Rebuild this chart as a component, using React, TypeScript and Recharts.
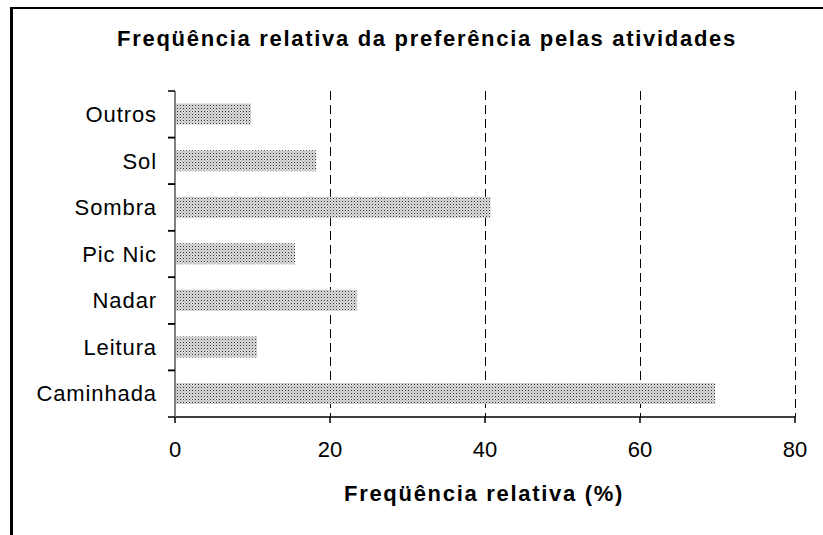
import { BarChart, Bar, XAxis, YAxis, CartesianGrid } from 'recharts'

const categories = ['Outros', 'Sol', 'Sombra', 'Pic Nic', 'Nadar', 'Leitura', 'Caminhada']
const values = [9.8, 18.2, 40.7, 15.5, 23.5, 10.6, 69.7]
const xTicks = [0, 20, 40, 60, 80]

const data = categories.map((name, i) => ({ name, value: values[i] }))

const W = 823
const H = 535
const margin = { top: 91, right: 28, bottom: 88, left: 10 }
const yAxisWidth = 165
const xAxisHeight = 30
const plotLeft = margin.left + yAxisWidth
const plotHeight = H - margin.top - margin.bottom - xAxisHeight
const band = plotHeight / categories.length
const font = '"Liberation Sans", Arial, sans-serif'

function CategoryTick(props: any) {
  const { x, y, payload } = props
  const top = y - band / 2
  const bottom = y + band / 2
  return (
    <g>
      <line x1={plotLeft - 7} x2={plotLeft} y1={top} y2={top} stroke="#000" strokeWidth={1.5} />
      <line x1={plotLeft - 7} x2={plotLeft} y1={bottom} y2={bottom} stroke="#000" strokeWidth={1.5} />
      <text
        x={x}
        y={y}
        dy="0.35em"
        textAnchor="end"
        fontSize={22}
        letterSpacing={0.9}
        fontFamily={font}
        fill="#000"
      >
        {payload.value}
      </text>
    </g>
  )
}

export default function App() {
  return (
    <div style={{ position: 'absolute', left: 0, top: 0, width: W, height: H, background: '#fff', fontFamily: font }}>
      <div
        style={{
          position: 'absolute',
          left: 10,
          top: 7,
          right: 0,
          bottom: 0,
          borderTop: '2px solid #000',
          borderLeft: '3px solid #000',
        }}
      />
      <div
        style={{
          position: 'absolute',
          left: 27,
          width: 800,
          top: 26,
          textAlign: 'center',
          fontSize: 22,
          fontWeight: 'bold',
          letterSpacing: 1.7,
          color: '#000',
        }}
      >
        Freqüência relativa da preferência pelas atividades
      </div>
      <div
        style={{
          position: 'absolute',
          left: 84,
          width: 800,
          top: 481,
          textAlign: 'center',
          fontSize: 22,
          fontWeight: 'bold',
          letterSpacing: 1.7,
          color: '#000',
        }}
      >
        Freqüência relativa (%)
      </div>
      <div style={{ position: 'absolute', left: 0, top: 0 }}>
        <BarChart width={W} height={H} data={data} layout="vertical" margin={margin} barCategoryGap="27%">
          <defs>
            <pattern id="dots" width="3" height="3" patternUnits="userSpaceOnUse">
              <rect width="3" height="3" fill="#dcdcdc" />
              <rect x="0" y="0" width="1" height="1" fill="#303030" />
              <rect x="1.5" y="1.5" width="1" height="1" fill="#8a8a8a" />
            </pattern>
          </defs>
          <CartesianGrid
            horizontal={false}
            stroke="#000"
            strokeDasharray="9 5"
            strokeWidth={1}
            shapeRendering="crispEdges"
          />
          <XAxis
            type="number"
            domain={[0, 80]}
            ticks={xTicks}
            height={xAxisHeight}
            axisLine={{ stroke: '#000', strokeWidth: 1.5 }}
            tickLine={{ stroke: '#000', strokeWidth: 1.5 }}
            tickSize={6}
            tickMargin={18}
            tick={{ fontSize: 22, fill: '#000', fontFamily: font }}
          />
          <YAxis
            type="category"
            dataKey="name"
            width={yAxisWidth}
            axisLine={{ stroke: '#808080', strokeWidth: 2 }}
            tickLine={false}
            tickSize={8}
            tickMargin={10}
            tick={<CategoryTick />}
            interval={0}
          />
          <Bar dataKey="value" fill="url(#dots)" isAnimationActive={false} />
        </BarChart>
      </div>
    </div>
  )
}
